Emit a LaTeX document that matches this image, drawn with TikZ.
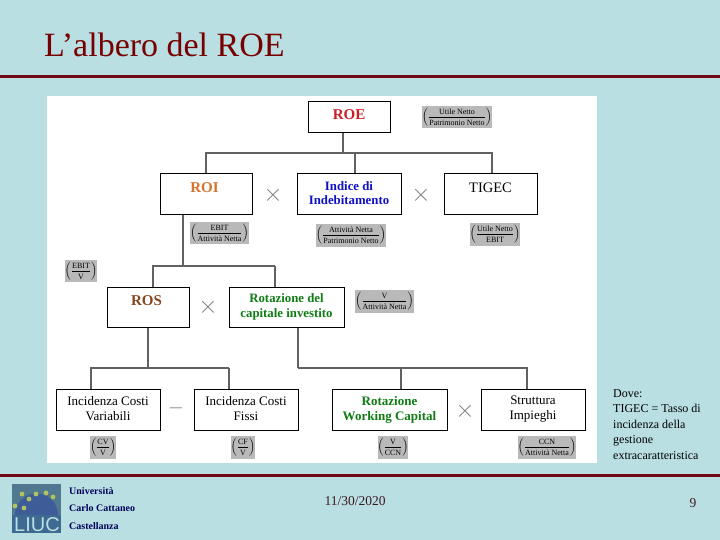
\documentclass[tikz,border=0pt]{standalone}
\usepackage{fontspec}
\setmainfont{Liberation Serif}
\setsansfont{Liberation Sans}
\usetikzlibrary{positioning,calc}
\definecolor{liucbg}{RGB}{185,223,227}
\definecolor{liucrule}{RGB}{112,10,20}
\definecolor{liuctitle}{RGB}{120,0,0}
\definecolor{liucnavy}{RGB}{0,0,90}
\definecolor{liucfoot}{RGB}{60,25,30}
\definecolor{logoback}{RGB}{80,120,145}
\definecolor{logodome}{RGB}{62,92,152}
\definecolor{logoband}{RGB}{62,105,145}
\definecolor{logodot}{RGB}{175,195,95}
\definecolor{roered}{RGB}{205,30,40}
\definecolor{roiorange}{RGB}{215,115,45}
\definecolor{indblue}{RGB}{15,15,195}
\definecolor{rosbrown}{RGB}{135,70,30}
\definecolor{rotgreen}{RGB}{15,125,20}
\definecolor{chipgray}{RGB}{185,185,185}
\newcommand{\ratiochip}[2]{$\left(\frac{\mbox{\fontsize{8}{8}\selectfont\rule[-2pt]{0pt}{8pt}#1}}{\mbox{\fontsize{8}{8}\selectfont\rule[-1pt]{0pt}{8.5pt}#2}}\right)$}

\begin{document}
\begin{tikzpicture}[
  x=1pt, y=-1pt,
  every node/.style={inner sep=0pt},
  box/.style={draw=black,line width=1pt,fill=white,align=center,text depth=3pt,
    font=\fontsize{13}{15}\selectfont},
  keybox/.style={box,text depth=2pt,font=\fontsize{13}{14.5}\selectfont\bfseries},
  upsmall/.style={text depth=5pt},
  upbig/.style={text depth=12pt},
  chip/.style={fill=chipgray,minimum height=22.5pt,align=center},
  conn/.style={line width=1.2pt,draw=black!62},
  oper/.style={text=black!50,font=\fontsize{27}{27}\selectfont},
  footname/.style={text=liucnavy,anchor=west,font=\fontsize{10}{10}\selectfont\bfseries}
]
\useasboundingbox (0,0) rectangle (720,540);
\fill[liucbg] (0,0) rectangle (720,540);
\fill[white] (47,96) rectangle (597,463);
\fill[liucrule] (0,75) rectangle (720,78);
\fill[liucrule] (0,474) rectangle (720,477);

\node[anchor=west,text=liuctitle,font=\fontsize{34}{34}\selectfont] (title) at (44,45) {L’albero del ROE};

\node[box,upsmall,minimum width=82pt,minimum height=31pt,text=roered,font=\fontsize{15}{15}\selectfont\bfseries] (roe) at (349,117) {ROE};
\node[box,upbig,minimum width=92pt,minimum height=41pt,text=roiorange,font=\fontsize{15}{15}\selectfont\bfseries] (roi) at (206,194) {\hspace*{-3pt}ROI};
\node[keybox,minimum width=104pt,minimum height=41pt,text=indblue,font=\fontsize{12.8}{14}\selectfont\bfseries] (indice) at (349,194) {Indice di\\Indebitamento};
\node[box,upbig,minimum width=93pt,minimum height=41pt,font=\fontsize{14.5}{15}\selectfont] (tigec) at (490.5,194) {TIGEC};
\node[box,upbig,minimum width=82pt,minimum height=40pt,text=rosbrown,font=\fontsize{15}{15}\selectfont\bfseries] (ros) at (148,307) {\hspace*{-3pt}ROS};
\node[keybox,minimum width=115pt,minimum height=40pt,text=rotgreen,font=\fontsize{12.8}{15}\selectfont\bfseries] (capitale) at (286.5,307) {Rotazione del\\capitale investito};
\node[box,minimum width=104pt,minimum height=41pt] (costvar) at (108,409.5) {Incidenza Costi\\Variabili};
\node[box,minimum width=104pt,minimum height=41pt] (costfix) at (246,409.5) {Incidenza Costi\\Fissi};
\node[keybox,minimum width=115pt,minimum height=41pt,text=rotgreen] (working) at (389.5,409.5) {Rotazione\\Working Capital};
\node[box,minimum width=104pt,minimum height=41pt] (impieghi) at (533,409.5) {Struttura\\Impieghi};

\coordinate (roejoin) at (343,153);
\coordinate (indjoin) at (355,153);
\coordinate (tigjoin) at (492,153);
\draw[conn] (roejoin |- roe.south) -- (roejoin);
\draw[conn] (roi.north) |- (roejoin);
\draw[conn] (indice.north -| indjoin) -- (indjoin);
\draw[conn] (tigec.north -| tigjoin) |- (roejoin);

\coordinate (roijoin) at (183,266);
\coordinate (rosdrop) at (153,266);
\coordinate (capdrop) at (275,266);
\draw[conn] (roi.south -| roijoin) -- (roijoin);
\draw[conn] (ros.north -| rosdrop) |- (capdrop);
\draw[conn] (capitale.north -| capdrop) -- (capdrop);

\coordinate (rosjoin) at (148,368);
\coordinate (vardrop) at (91,368);
\coordinate (fixdrop) at (229,368);
\draw[conn] (ros.south -| rosjoin) -- (rosjoin);
\draw[conn] (costvar.north -| vardrop) |- (fixdrop);
\draw[conn] (costfix.north -| fixdrop) -- (fixdrop);

\coordinate (capjoin) at (298,368);
\coordinate (workdrop) at (401,368);
\coordinate (impdrop) at (527,368);
\draw[conn] (capitale.south -| capjoin) -- (capjoin);
\draw[conn] (capjoin) -| (impieghi.north -| impdrop);
\draw[conn] (working.north -| workdrop) -- (workdrop);

\node[oper] (opa) at (273,195) {$\times$};
\node[oper] (opb) at (421,195) {$\times$};
\node[oper] (opc) at (208,307) {$\times$};
\node[oper] (opd) at (465,411) {$\times$};
\node[oper,font=\fontsize{21}{21}\selectfont] (ope) at (176,408) {$-$};

\node[chip,minimum width=70pt] (chiproe) at (457,117) {\ratiochip{Utile Netto}{Patrimonio Netto}};
\node[chip,minimum width=55pt] (chiproi) at (219.5,233) {\ratiochip{EBIT}{Attività Netta}};
\node[chip,minimum width=70pt] (chipind) at (351,235.5) {\ratiochip{Attività Netta}{Patrimonio Netto}};
\node[chip,minimum width=50pt] (chiptig) at (495,234.5) {\ratiochip{Utile Netto}{EBIT}};
\node[chip,minimum width=30pt] (chipros) at (81,271) {\ratiochip{EBIT}{V}};
\node[chip,minimum width=57pt] (chipcap) at (384.5,301.5) {\ratiochip{V}{Attività Netta}};
\node[chip,minimum width=24pt] (chipvar) at (103,447.5) {\ratiochip{CV}{V}};
\node[chip,minimum width=22pt] (chipfix) at (243,447.5) {\ratiochip{CF}{V}};
\node[chip,minimum width=30pt] (chipwork) at (393,447.5) {\ratiochip{V}{CCN}};
\node[chip,minimum width=58pt] (chipimp) at (547,447.5) {\ratiochip{CCN}{Attività Netta}};

\node[anchor=north west,align=left,font=\fontsize{12}{15.5}\selectfont] (dove) at (613,389)
 {Dove:\\TIGEC = Tasso di\\incidenza della\\gestione\\extracaratteristica};

\fill[logoback] (12,484) rectangle (61,533);
\fill[logodome] (15,515) arc[start angle=180,end angle=360,radius=21.5] -- cycle;
\fill[logoband] (12,515) rectangle (61,533);
\foreach \dotx/\doty in {22/494,36/494,46/493,53/497,29/499,15/506,24/508}
  \fill[logodot] (\dotx,\doty) circle[radius=2.4];
\node[text=liucbg,font=\sffamily\fontsize{20}{20}\selectfont] (liuc) at (37,525) {LIUC};

\node[footname] (unia) at (69,491) {Università};
\node[footname] (unib) at (69,508) {Carlo Cattaneo};
\node[footname] (unic) at (69,526) {Castellanza};

\node[text=liucfoot,font=\fontsize{13.5}{13.5}\selectfont] (date) at (355,501) {11/30/2020};
\node[text=liucfoot,font=\fontsize{13.5}{13.5}\selectfont] (page) at (693,503) {9};
\end{tikzpicture}
\end{document}
